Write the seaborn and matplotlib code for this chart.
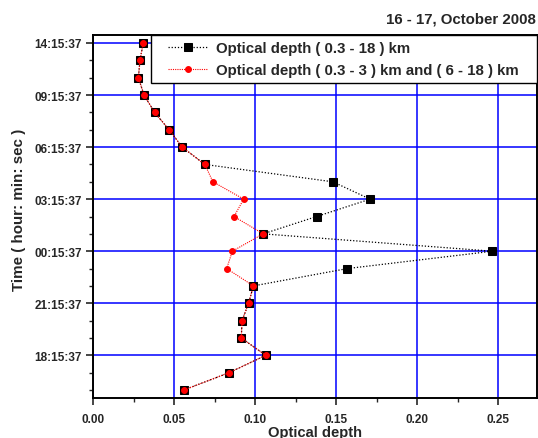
import matplotlib
matplotlib.use("Agg")
import matplotlib.pyplot as plt
from matplotlib.legend_handler import HandlerLine2D
import seaborn as sns
import numpy as np
import pandas as pd

# index position (0 = bottom) of each observation
idx = list(range(21))
# Optical depth (0.3 - 18) km, bottom to top
od_full = [0.056, 0.084, 0.1066, 0.0915, 0.092, 0.096, 0.099, 0.157, 0.2465, 0.105,
           0.138, 0.171, 0.148, 0.069, 0.055, 0.047, 0.038, 0.0315, 0.028, 0.029, 0.031]
# Optical depth (0.3 - 3) km and (6 - 18) km, bottom to top
od_part = [0.056, 0.084, 0.1066, 0.0915, 0.092, 0.096, 0.099, 0.0825, 0.086, 0.105,
           0.087, 0.093, 0.074, 0.069, 0.055, 0.047, 0.038, 0.0315, 0.028, 0.029, 0.031]
ytick_pos = [2, 5, 8, 11, 14, 17, 20]
ytick_labels = ["18:15:37", "21:15:37", "00:15:37", "03:15:37", "06:15:37", "09:15:37", "14:15:37"]
xticks = [0.00, 0.05, 0.10, 0.15, 0.20, 0.25]
label_full = "Optical depth ( 0.3 - 18 ) km"
label_part = "Optical depth ( 0.3 - 3 ) km and ( 6 - 18 ) km"

sns.set_style("ticks")
plt.rcParams['font.family'] = ['Liberation Sans', 'DejaVu Sans']
plt.rcParams['font.weight'] = 'bold'

fig = plt.figure(figsize=(5.38, 4.39), dpi=100)
ax = fig.add_axes([93/538, 1-399/439, (537-93)/538, (399-36)/439])

df1 = pd.DataFrame({"x": od_full, "y": idx})
df2 = pd.DataFrame({"x": od_part, "y": idx})

sns.lineplot(data=df1, x="x", y="y", sort=False, estimator=None, ax=ax,
             color="black", linestyle=(0, (1, 1.5)), linewidth=0.9,
             marker="s", markersize=5.2, markerfacecolor="black", markeredgecolor="black",
             label=label_full, zorder=3)
sns.lineplot(data=df2, x="x", y="y", sort=False, estimator=None, ax=ax,
             color="red", linestyle=(0, (1, 1)), linewidth=0.8,
             marker="o", markersize=4.2, markerfacecolor="red", markeredgecolor="red",
             label=label_part, zorder=4)

ax.set_xlim(0, 0.274)
ax.set_ylim(-0.46, 20.46)
ax.set_xticks(xticks)
ax.set_xticklabels([f"{v:.2f}" for v in xticks])
ax.set_xticks(np.arange(0.025, 0.274, 0.05), minor=True)
ax.set_yticks(ytick_pos)
ax.set_yticklabels(ytick_labels)
ax.set_yticks([i for i in idx if i not in ytick_pos], minor=True)

ax.grid(True, which="major", color="#0000ff", linewidth=1.1, zorder=0)
ax.set_axisbelow(True)
for s in ax.spines.values():
    s.set_visible(True)
    s.set_linewidth(1.4)
    s.set_color("black")
ax.tick_params(axis="both", which="major", direction="out", length=5, width=1.2,
               labelsize=8.5)
ax.tick_params(axis="x", which="major", pad=6)
ax.tick_params(axis="y", which="major", pad=3)
ax.tick_params(axis="both", which="minor", direction="out", length=3, width=1.0)
for lab in ax.get_xticklabels() + ax.get_yticklabels():
    lab.set_fontweight("bold")

ax.set_xlabel("Optical depth", fontsize=10.6, fontweight="bold", labelpad=0)
ax.set_ylabel("Time ( hour: min: sec )", fontsize=10.9, fontweight="bold")
ax.yaxis.set_label_coords(-0.150, 0.52)

handles, labels = ax.get_legend_handles_labels()
labels = [labels[0], labels[1] + "   "]
hmap = {h: HandlerLine2D(xpad=0.67) for h in handles}
leg = ax.legend(handles, labels, loc="upper right", borderaxespad=0, fancybox=False,
                frameon=True, edgecolor="black", framealpha=1, fontsize=10.8,
                handlelength=3.34, handletextpad=0.53, borderpad=0.42,
                labelspacing=0.5, handler_map=hmap)
leg.get_frame().set_linewidth(1.0)
for t in leg.get_texts():
    t.set_fontweight("bold")

fig.text(536/538, 1-20/439, "16 - 17, October 2008", ha="right", va="center",
         fontsize=10.8, fontweight="bold")

fig.savefig("out.png", dpi=100)
